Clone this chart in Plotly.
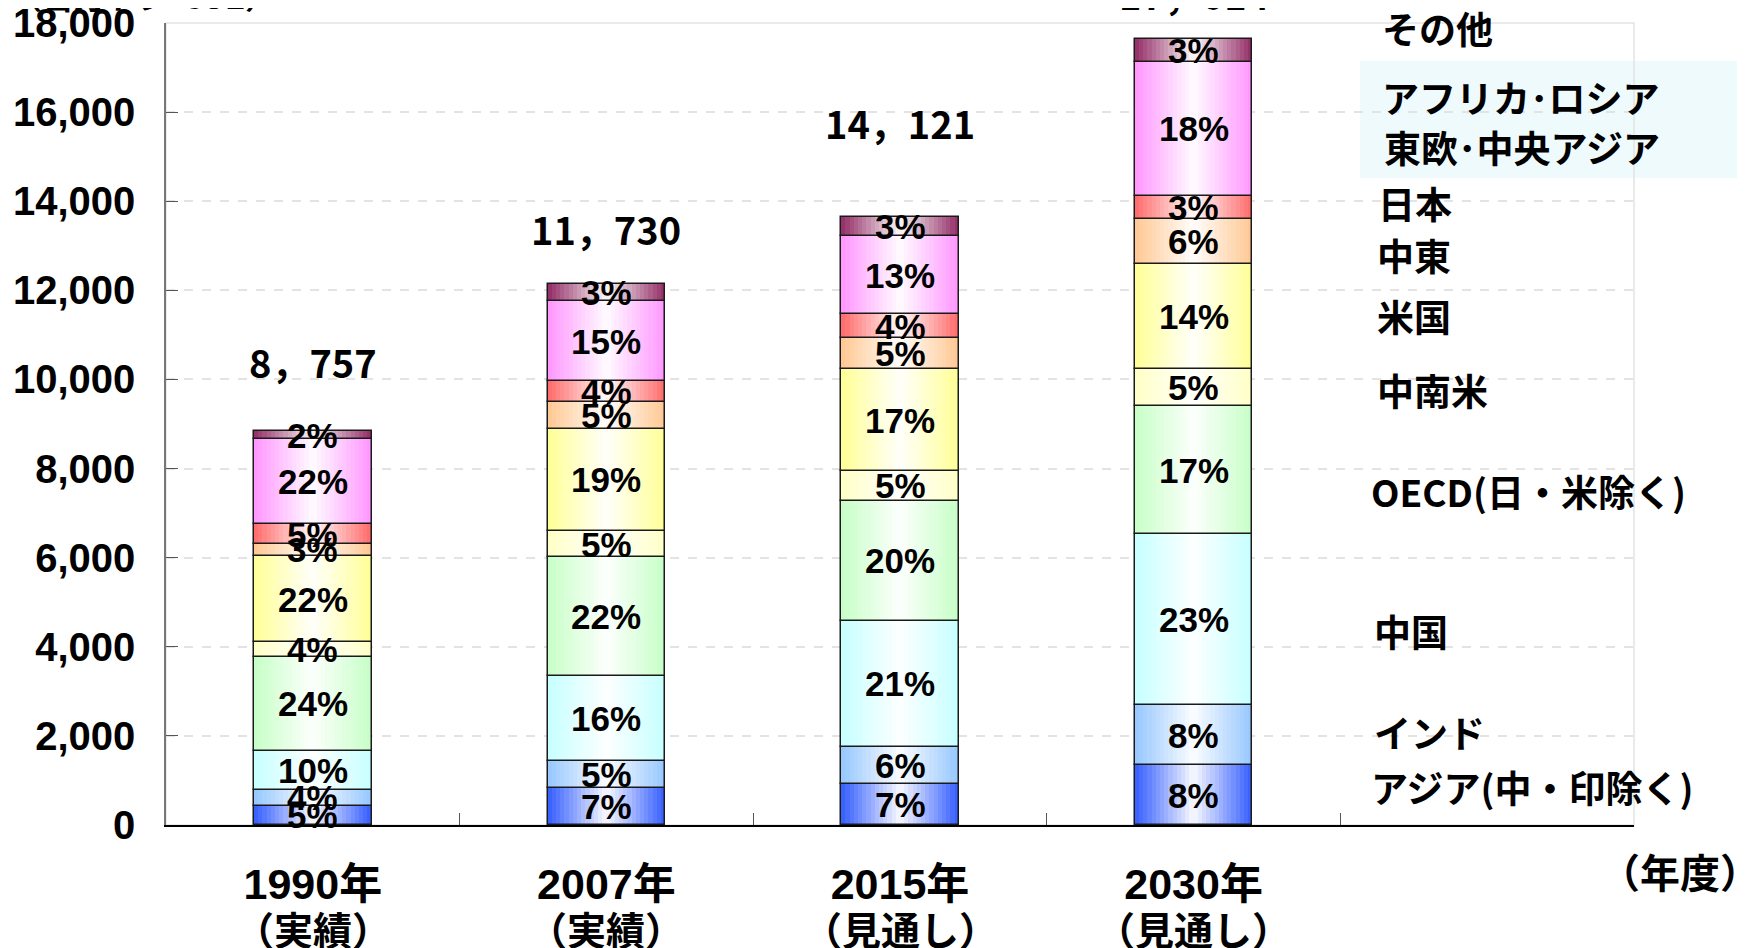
import plotly.graph_objects as go

# ---------------- data ----------------
years = ["1990年", "2007年", "2015年", "2030年"]
year_notes = ["（実績）", "（実績）", "（見通し）", "（見通し）"]

# segment values (bottom -> top)
asia = [434, 837, 920, 1340]          # アジア（中・印除く）
india = [351, 606, 830, 1346]         # インド
china = [883, 1908, 2835, 3845]       # 中国
oecd = [2096, 2656, 2686, 2872]       # OECD（日・米除く）
latam = [336, 598, 680, 830]          # 中南米
usa = [1944, 2282, 2276, 2350]        # 米国
mideast = [262, 599, 709, 1010]       # 中東
japan = [449, 478, 525, 523]          # 日本
africa_russia = [1900, 1796, 1757, 3014]  # アフリカ・ロシア 東欧・中央アジア
others = [187, 374, 420, 502]         # その他

# share labels (%)
pct_asia = [5, 7, 7, 8]
pct_india = [4, 5, 6, 8]
pct_china = [10, 16, 21, 23]
pct_oecd = [24, 22, 20, 17]
pct_latam = [4, 5, 5, 5]
pct_usa = [22, 19, 17, 14]
pct_mideast = [3, 5, 5, 6]
pct_japan = [5, 4, 4, 3]
pct_africa = [22, 15, 13, 18]
pct_others = [2, 3, 3, 3]

totals = [8757, 11730, 14121, 17014]

region_labels = ["アジア(中・印除く)", "インド", "中国", "OECD(日・米除く)", "中南米",
                 "米国", "中東", "日本", "東欧･中央アジア", "アフリカ･ロシア", "その他"]

# ---------------- styling ----------------
edge_colors = ["#3a62ff", "#99c9ff", "#c8ffff", "#c8ffc8", "#ffffc8",
               "#ffff99", "#ffc996", "#ff6f6f", "#ff99ff", "#96336a"]
series = [asia, india, china, oecd, latam, usa, mideast, japan, africa_russia, others]
pcts = [pct_asia, pct_india, pct_china, pct_oecd, pct_latam, pct_usa,
        pct_mideast, pct_japan, pct_africa, pct_others]

YMAX = 18000
BW = 0.4
NSTEP = 14
W, H = 1737, 940
ML, MT = 158, 15
PW, PH = 1468, 802
MR, MB = W - ML - PW, H - MT - PH

def mix(hexc, t):
    r, g, b = int(hexc[1:3], 16), int(hexc[3:5], 16), int(hexc[5:7], 16)
    r = round(r + (255 - r) * t); g = round(g + (255 - g) * t); b = round(b + (255 - b) * t)
    return f"rgb({r},{g},{b})"

# page pixel -> paper coordinates (page has an 8px body margin)
def px(x):
    return (x - 8 - ML) / PW

def py(y):
    return (H - MB - (y - 8)) / PH

fig = go.Figure()
n = len(years)
base = [0] * n
annotations = []
pct_font = dict(family="Liberation Sans, Arial", size=35, color="black")
for vals, col, pc in zip(series, edge_colors, pcts):
    for k in range(NSTEP):
        fig.add_trace(go.Bar(x=years, y=vals, base=base, width=BW * (1 - k / NSTEP),
                             marker=dict(color=mix(col, k / NSTEP), line=dict(width=0)),
                             showlegend=False, hoverinfo="skip"))
    fig.add_trace(go.Bar(x=years, y=vals, base=base, width=BW,
                         marker=dict(color="rgba(0,0,0,0)", line=dict(color="#1a1a1a", width=1.5)),
                         showlegend=False, hoverinfo="skip"))
    for i in range(n):
        annotations.append(dict(x=years[i], y=base[i] + vals[i] / 2, xref="x", yref="y",
                                text=f"<b>{pc[i]}%</b>", showarrow=False, font=pct_font))
    base = [b + v for b, v in zip(base, vals)]

# total labels
for i, t in enumerate(totals):
    annotations.append(dict(x=years[i], y=(t + 1650) / YMAX, xref="x", yref="paper",
                            yanchor="middle",
                            text=f"<b>{t // 1000}，{t % 1000:03d}</b>", showarrow=False,
                            font=dict(family="Noto Sans CJK JP", size=38, color="black")))

# second line of the category labels
for i, note in enumerate(year_notes):
    annotations.append(dict(x=years[i], y=py(928), xref="x", yref="paper", yanchor="middle",
                            text=f"<b>{note}</b>", showarrow=False,
                            font=dict(family="Noto Sans CJK JP", size=39, color="black")))

leg_font = dict(family="Noto Sans CJK JP", size=37, color="black")
legend_pos = [(1369, 787), (1372, 732), (1372, 631), (1369, 491), (1375, 390),
              (1375, 316), (1375, 255), (1376, 203), (1382, 147), (1380, 97), (1380, 28)]
for lab, (lx, ly) in zip(region_labels, legend_pos):
    annotations.append(dict(x=px(lx), y=py(ly), xref="paper", yref="paper", xanchor="left",
                            yanchor="middle", text=f"<b>{lab}</b>", showarrow=False, font=leg_font))

annotations.append(dict(x=px(1762), y=py(871), xref="paper", yref="paper", xanchor="right",
                        yanchor="middle", text="<b>（年度）</b>", showarrow=False,
                        font=dict(family="Noto Sans CJK JP", size=40, color="black")))
annotations.append(dict(x=px(8), y=py(20), xref="paper", yref="paper", xanchor="left",
                        yanchor="bottom", text="<b>（百万トン-CO2）</b>", showarrow=False,
                        font=dict(family="Noto Sans CJK JP", size=32, color="black")))

shapes = [
    dict(type="rect", xref="paper", yref="paper", x0=px(1360), x1=px(1760), y0=py(178), y1=py(61),
         fillcolor="#eefafc", line=dict(width=0), layer="below"),
    dict(type="rect", xref="paper", yref="paper", x0=0, x1=1, y0=0, y1=1,
         line=dict(color="#e3e3e3", width=1.5), layer="below"),
]

fig.update_layout(
    width=W, height=H,
    margin=dict(l=ML, r=MR, t=MT, b=MB, pad=0, autoexpand=False),
    paper_bgcolor="white", plot_bgcolor="rgba(0,0,0,0)",
    barmode="overlay", bargap=0,
    annotations=annotations, shapes=shapes,
    showlegend=False, hovermode=False,
    xaxis=dict(type="category", categoryorder="array", categoryarray=years + ["　"],
               range=[-0.5, 4.5], tickson="boundaries", ticks="inside", ticklen=12,
               tickcolor="#555", showline=True, linecolor="black", linewidth=1.5,
               showgrid=False, zeroline=False, ticklabelstandoff=21, automargin=False,
               ticklabeloverflow="allow",
               tickfont=dict(family="Liberation Sans, Noto Sans CJK JP", size=43, color="black")),
    yaxis=dict(range=[0, YMAX], dtick=2000, tickformat=",", ticks="inside", ticklen=12,
               tickcolor="#555", showline=True, linecolor="#777", linewidth=1.5,
               showgrid=True, gridcolor="#e3e3e3", griddash="dash", gridwidth=1.5,
               zeroline=False, ticklabelstandoff=21, automargin=False,
               ticklabeloverflow="allow",
               tickfont=dict(family="Liberation Sans, Arial", size=40, color="black")),
)
fig.update_yaxes(tickprefix="<b>", ticksuffix="</b>")
fig.update_xaxes(tickprefix="<b>", ticksuffix="</b>")

fig.write_html("out.html")
